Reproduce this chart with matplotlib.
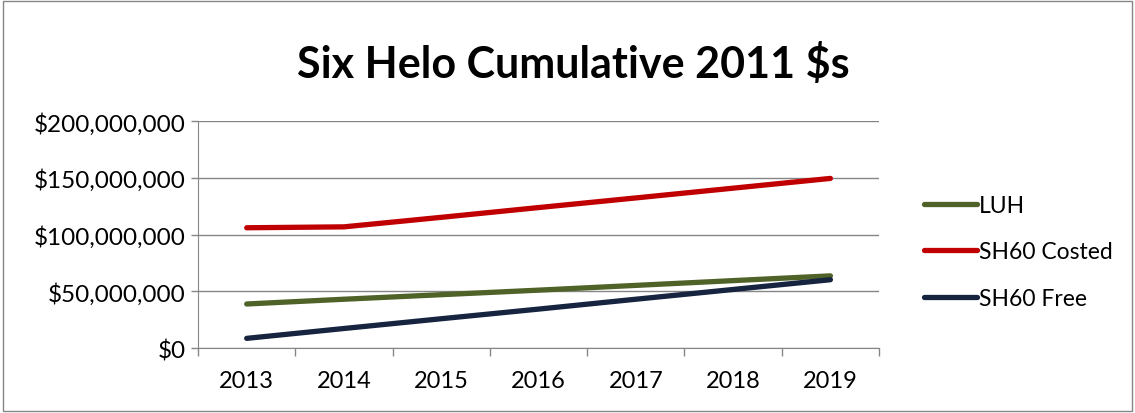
import matplotlib.pyplot as plt
import matplotlib.ticker as mticker
from matplotlib.patches import Rectangle

years = ["2013", "2014", "2015", "2016", "2017", "2018", "2019"]
luh = [38.8, 43.0, 47.0, 51.0, 55.2, 59.4, 63.6]
sh60_costed = [106.0, 106.8, 115.2, 123.8, 132.3, 140.9, 149.5]
sh60_free = [8.5, 17.2, 25.8, 34.3, 43.0, 51.6, 60.2]
series_names = ["LUH", "SH60 Costed", "SH60 Free"]
colors = ["#4f6228", "#c00000", "#17243f"]

plt.rcParams['font.family'] = ['Lato', 'DejaVu Sans']

fig = plt.figure(figsize=(11.35, 4.14), dpi=100)
ax = fig.add_axes([0.1745, 0.157, 0.6, 0.548])

x = range(len(years))
for vals, name, c in zip([luh, sh60_costed, sh60_free], series_names, colors):
    ax.plot(x, [v * 1e6 for v in vals], color=c, lw=3.8, solid_capstyle='round', label=name)

ax.set_xlim(-0.5, len(years) - 0.5)
ax.set_ylim(0, 200e6)
ax.set_yticks([0, 50e6, 100e6, 150e6, 200e6])
ax.yaxis.set_major_formatter(mticker.FuncFormatter(lambda v, p: "${:,.0f}".format(v)))
ax.set_xticks(list(x))
ax.set_xticklabels(years)
ax.set_xticks([i - 0.5 for i in range(len(years) + 1)], minor=True)
ax.tick_params(axis='x', which='major', length=0, pad=16, labelsize=17)
ax.tick_params(axis='x', which='minor', length=6, color='#868686', width=1)
ax.tick_params(axis='y', length=5, color='#868686', width=1, labelsize=17.5, pad=4)
ax.grid(axis='y', color='#868686', lw=1)
ax.set_axisbelow(True)
for s in ['top', 'right']:
    ax.spines[s].set_visible(False)
for s in ['left', 'bottom']:
    ax.spines[s].set_color('#868686')

fig.text(0.505, 0.845, "Six Helo Cumulative 2011 $s", ha='center', va='center',
         fontsize=31, fontweight='bold')

leg = fig.legend(loc='center left', bbox_to_anchor=(0.796, 0.389), frameon=False,
                 fontsize=16.5, handlelength=2.3, handletextpad=0.1, labelspacing=1.1)

fig.patches.append(Rectangle((0.003, 0.004), 0.994, 0.992, transform=fig.transFigure,
                             fill=False, edgecolor='#868686', lw=1))

fig.savefig("out.png", dpi=100)
